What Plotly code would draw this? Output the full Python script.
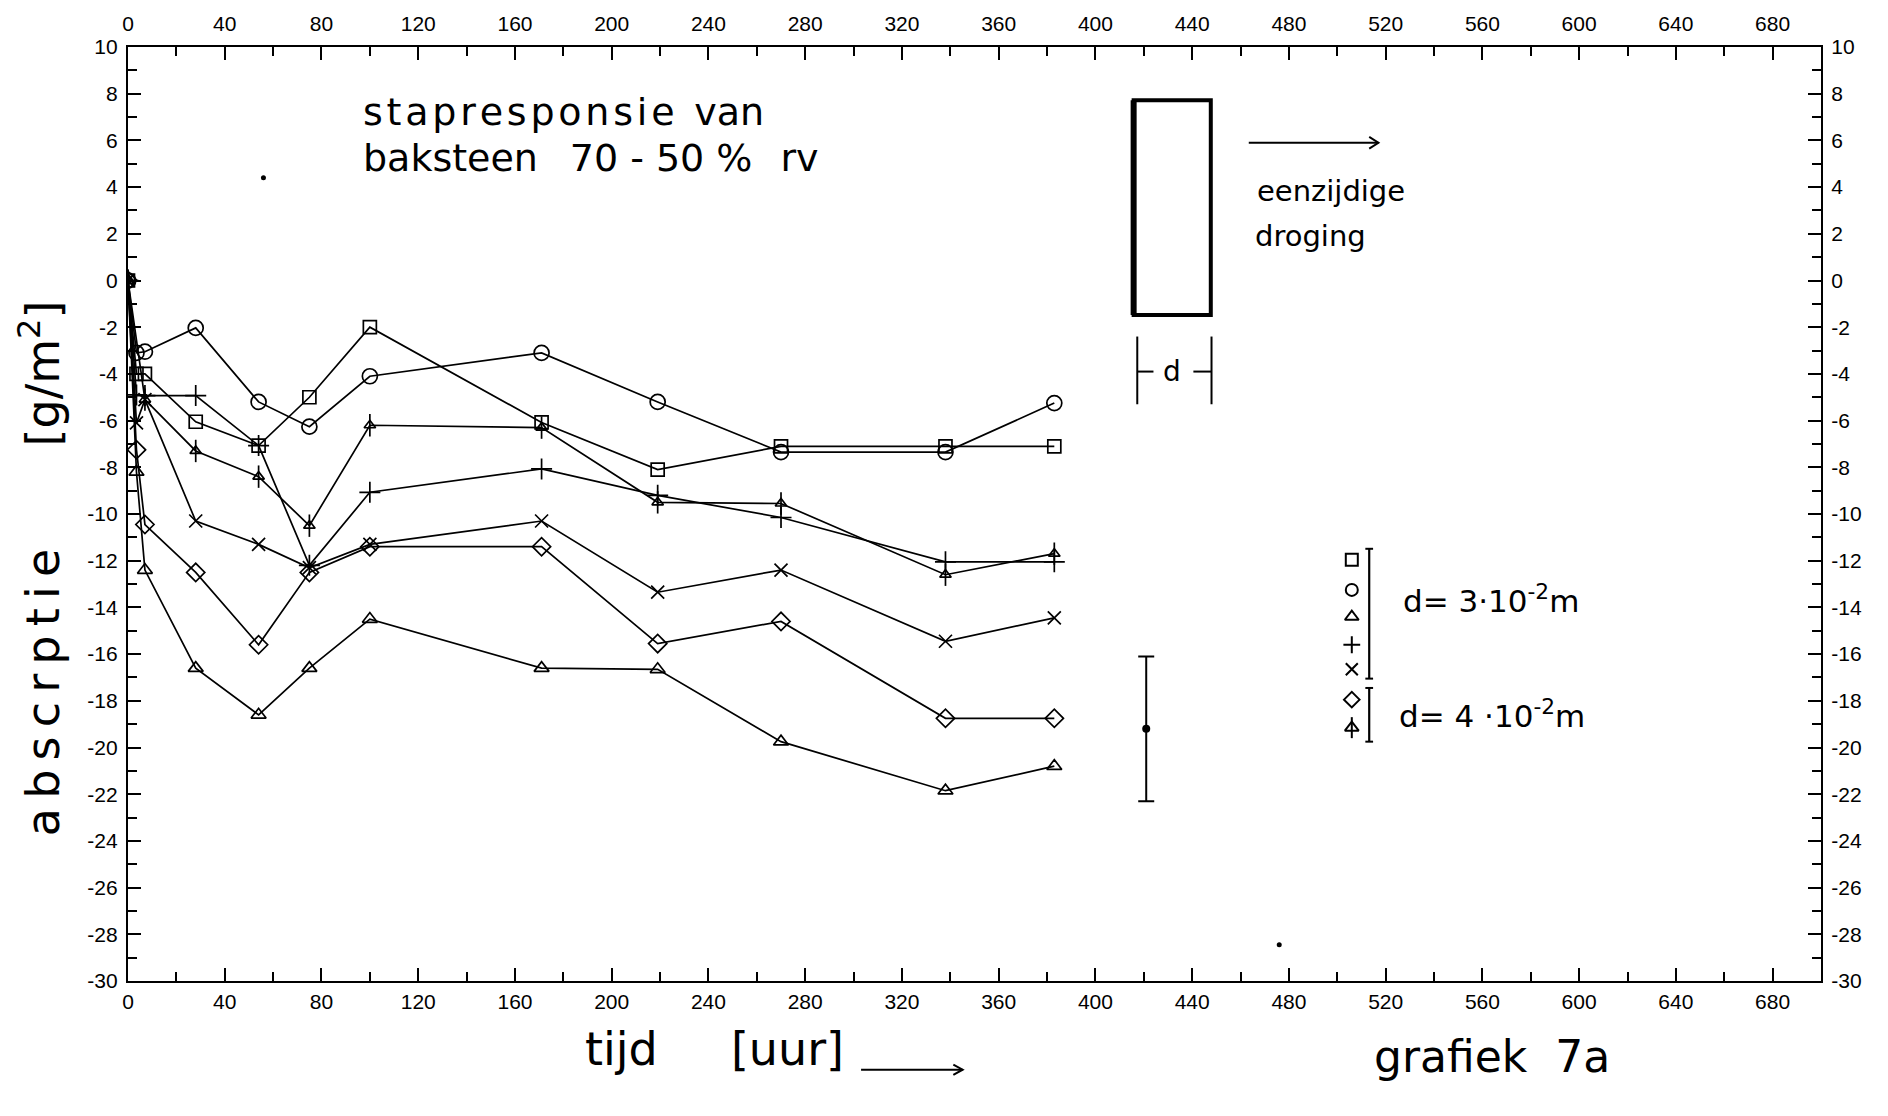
import plotly.graph_objects as go

# ---------------- data ----------------
tijd = [0, 3.5, 7, 28, 54, 75, 100, 171, 219, 270, 338, 383]          # uur
s_square   = [0, -4.0, -4.0, -6.05, -7.07, -5.0, -2.0, -6.08, -8.1, -7.1, -7.1, -7.1]
s_circle   = [0, -3.1, -3.05, -2.03, -5.2, -6.26, -4.1, -3.1, -5.2, -7.35, -7.35, -5.25]
s_triangle = [0, -8.2, -12.4, -16.6, -18.6, -16.6, -14.5, -16.6, -16.65, -19.75, -21.85, -20.8]
s_plus     = [0, -4.9, -4.93, -4.93, -7.07, -12.2, -9.07, -8.07, -9.2, -10.15, -12.05, -12.05]
s_cross    = [0, -6.1, -5.1, -10.3, -11.3, -12.3, -11.3, -10.3, -13.35, -12.4, -15.45, -14.45]
s_diamond  = [0, -7.25, -10.45, -12.5, -15.6, -12.5, -11.4, -11.4, -15.55, -14.6, -18.75, -18.75]
s_arrow    = [0, None, -5.1, -7.3, -8.4, -10.5, -6.2, -6.3, -9.5, -9.55, -12.6, -11.7]

# error bar indication
err_t = [421]
err_v = [-19.2]
err_d = [3.1]

# stray specks on the sheet
speck_t = [56, 476]
speck_v = [4.4, -28.45]

# legend symbol column
leg_t = [506, 506, 506, 506, 506, 506, 506]
leg_v = [-11.96, -13.25, -14.4, -15.6, -16.65, -17.95, -19.15]
leg_sym = ["square-open", "circle-open", "triangle-up-open", "cross-thin-open",
           "x-thin-open", "diamond-open", "triangle-up-open"]

x_ticks = [0, 40, 80, 120, 160, 200, 240, 280, 320, 360, 400, 440, 480, 520, 560, 600, 640, 680]
y_ticks = [10, 8, 6, 4, 2, 0, -2, -4, -6, -8, -10, -12, -14, -16, -18, -20, -22, -24, -26, -28, -30]

# ---------------- figure ----------------
INK = "black"
fig = go.Figure()

series = [
    (s_square, "square-open", 13),
    (s_circle, "circle-open", 15),
    (s_triangle, "triangle-up-open", 13),
    (s_plus, "cross-thin-open", 15),
    (s_cross, "x-thin-open", 13),
    (s_diamond, "diamond-open", 14),
    (s_arrow, "triangle-up-open", 10),
]
for vals, sym, size in series:
    fig.add_trace(go.Scatter(
        x=tijd, y=vals, mode="lines+markers", connectgaps=True,
        line=dict(color=INK, width=1.7),
        marker=dict(symbol=sym, size=size, color=INK, line=dict(color=INK, width=1.7)),
        showlegend=False, hoverinfo="skip"))
# stem of the arrow symbol
fig.add_trace(go.Scatter(
    x=tijd, y=s_arrow, mode="markers",
    marker=dict(symbol="line-ns-open", size=16, color=INK, line=dict(color=INK, width=1.7)),
    showlegend=False, hoverinfo="skip"))

# error bar
fig.add_trace(go.Scatter(
    x=err_t, y=err_v, mode="markers",
    marker=dict(symbol="circle", size=8, color=INK),
    error_y=dict(type="data", array=err_d, color=INK, thickness=2, width=8),
    showlegend=False, hoverinfo="skip"))

# specks
fig.add_trace(go.Scatter(
    x=speck_t, y=speck_v, mode="markers",
    marker=dict(symbol="circle", size=5, color=INK),
    showlegend=False, hoverinfo="skip"))

# legend symbols
fig.add_trace(go.Scatter(
    x=leg_t, y=leg_v, mode="markers",
    marker=dict(symbol=leg_sym, size=12, color=INK, line=dict(color=INK, width=2)),
    showlegend=False, hoverinfo="skip"))
fig.add_trace(go.Scatter(
    x=leg_t[-1:], y=leg_v[-1:], mode="markers",
    marker=dict(symbol="line-ns-open", size=15, color=INK, line=dict(color=INK, width=2)),
    showlegend=False, hoverinfo="skip"))

# invisible trace to activate the mirrored axes
fig.add_trace(go.Scatter(x=tijd[:1], y=s_square[:1], xaxis="x2", yaxis="y2",
                         mode="markers", marker=dict(opacity=0),
                         showlegend=False, hoverinfo="skip"))

tickfont = dict(family="Liberation Sans, Arial, sans-serif", size=21, color=INK)
common_x = dict(range=[0, 700], tickmode="array", tickvals=x_ticks, ticktext=[str(v) for v in x_ticks],
                ticks="inside", ticklen=13, tickwidth=1.8, tickcolor=INK,
                minor=dict(dtick=20, ticks="inside", ticklen=9, tickwidth=1.5, tickcolor=INK),
                showline=True, linewidth=2.2, linecolor=INK, showgrid=False, zeroline=False,
                tickfont=tickfont)
common_y = dict(range=[-30, 10], tickmode="array", tickvals=y_ticks, ticktext=[str(v) for v in y_ticks],
                ticks="inside", ticklen=13, tickwidth=1.8, tickcolor=INK,
                minor=dict(dtick=1, ticks="inside", ticklen=9, tickwidth=1.5, tickcolor=INK),
                showline=True, linewidth=2.2, linecolor=INK, showgrid=False, zeroline=False,
                tickfont=tickfont)

fig.update_layout(
    width=1888, height=1116, autosize=False,
    margin=dict(l=128, r=67, t=47, b=135),
    paper_bgcolor="white", plot_bgcolor="white",
    xaxis=dict(**common_x, side="bottom", ticklabelstandoff=1),
    xaxis2=dict(**common_x, side="top", overlaying="x", anchor="y", ticklabelstandoff=6),
    yaxis=dict(**common_y, side="left", ticklabelstandoff=4),
    yaxis2=dict(**common_y, side="right", overlaying="y", anchor="x", ticklabelstandoff=4),
)

TXT = "DejaVu Sans, Noto Sans, sans-serif"
NB = "\u00a0"
TS = "\u2009"
HS = "\u200a"

shapes = []
# specimen rectangle
shapes.append(dict(type="rect", xref="x", yref="y", x0=415.8, x1=447.7, y0=-1.48, y1=7.72,
                   line=dict(color=INK, width=4)))
shapes.append(dict(type="line", xref="x", yref="y", x0=415.8, x1=415.8, y0=-1.48, y1=7.72,
                   line=dict(color=INK, width=6)))
# dimension |-d-|
for xx in (417.3, 448):
    shapes.append(dict(type="line", xref="x", yref="y", x0=xx, x1=xx, y0=-5.3, y1=-2.4,
                       line=dict(color=INK, width=2)))
shapes.append(dict(type="line", xref="x", yref="y", x0=417.3, x1=424.0, y0=-3.9, y1=-3.9,
                   line=dict(color=INK, width=2)))
shapes.append(dict(type="line", xref="x", yref="y", x0=440.5, x1=448, y0=-3.9, y1=-3.9,
                   line=dict(color=INK, width=2)))
# arrow "eenzijdige droging"
shapes.append(dict(type="line", xref="x", yref="y", x0=463.4, x1=517, y0=5.9, y1=5.9,
                   line=dict(color=INK, width=2)))
shapes.append(dict(type="path", xref="x", yref="y",
                   path="M 513.2,6.15 L 517,5.9 L 513.2,5.65", line=dict(color=INK, width=2)))
# arrow after "tijd [uur]" (paper coordinates)
shapes.append(dict(type="line", xref="paper", yref="paper", x0=0.433, x1=0.493, y0=-0.095, y1=-0.095,
                   line=dict(color=INK, width=2)))
shapes.append(dict(type="path", xref="paper", yref="paper",
                   path="M 0.4875,-0.0895 L 0.493,-0.095 L 0.4875,-0.1005", line=dict(color=INK, width=2)))
# legend brackets
for y0, y1 in ((-17.05, -11.49), (-19.75, -17.45)):
    shapes.append(dict(type="line", xref="x", yref="y", x0=513.2, x1=513.2, y0=y0, y1=y1,
                       line=dict(color=INK, width=2.2)))
    for yy in (y0, y1):
        shapes.append(dict(type="line", xref="x", yref="y", x0=511.6, x1=514.8, y0=yy, y1=yy,
                           line=dict(color=INK, width=2)))
fig.update_layout(shapes=shapes)

ann = []
ann.append(dict(x=96.5, y=7.2, xref="x", yref="y", xanchor="left", yanchor="middle",
                text=HS.join("stapresponsie") + NB + TS + "van", showarrow=False,
                font=dict(family=TXT, size=38, color=INK)))
ann.append(dict(x=96.5, y=5.25, xref="x", yref="y", xanchor="left", yanchor="middle",
                text="baksteen" + NB * 2 + TS + "70" + NB + "-" + NB + "50" + NB + "%" + NB * 2 + HS + "rv",
                showarrow=False, font=dict(family=TXT, size=38, color=INK)))
ann.append(dict(x=431.5, y=-3.9, xref="x", yref="y", xanchor="center", yanchor="middle",
                text="d", showarrow=False, font=dict(family=TXT, size=28, color=INK)))
ann.append(dict(x=466.0, y=3.85, xref="x", yref="y", xanchor="left", yanchor="middle",
                text="eenzijdige", showarrow=False, font=dict(family=TXT, size=29, color=INK)))
ann.append(dict(x=465.0, y=1.9, xref="x", yref="y", xanchor="left", yanchor="middle",
                text="droging", showarrow=False, font=dict(family=TXT, size=29, color=INK)))
ann.append(dict(x=526.5, y=-13.65, xref="x", yref="y", xanchor="left", yanchor="middle",
                text="d=" + NB + "3\u00b710<sup>-2</sup>m", showarrow=False,
                font=dict(family=TXT, size=31, color=INK)))
ann.append(dict(x=524.5, y=-18.55, xref="x", yref="y", xanchor="left", yanchor="middle",
                text="d=" + NB + "4" + NB + "\u00b710<sup>-2</sup>m", showarrow=False,
                font=dict(family=TXT, size=31, color=INK)))

# axis titles
ytitle = TS.join("abscrptie") + NB * 7 + "[g/m<sup>2</sup>]"
ann.append(dict(x=-0.052, y=0.442, xref="paper", yref="paper", xanchor="center", yanchor="middle",
                text=ytitle, textangle=-90,
                showarrow=False, font=dict(family=TXT, size=46, color=INK)))
xtitle = "tijd" + NB * 5 + "[uur]"
ann.append(dict(x=0.269, y=-0.073, xref="paper", yref="paper", xanchor="left", yanchor="middle",
                text=xtitle, showarrow=False, font=dict(family=TXT, size=46, color=INK)))
ann.append(dict(x=0.735, y=-0.081, xref="paper", yref="paper", xanchor="left", yanchor="middle",
                text="grafiek" + NB * 2 + "7a", showarrow=False,
                font=dict(family=TXT, size=44, color=INK)))
fig.update_layout(annotations=ann)

fig.write_html("out.html")
